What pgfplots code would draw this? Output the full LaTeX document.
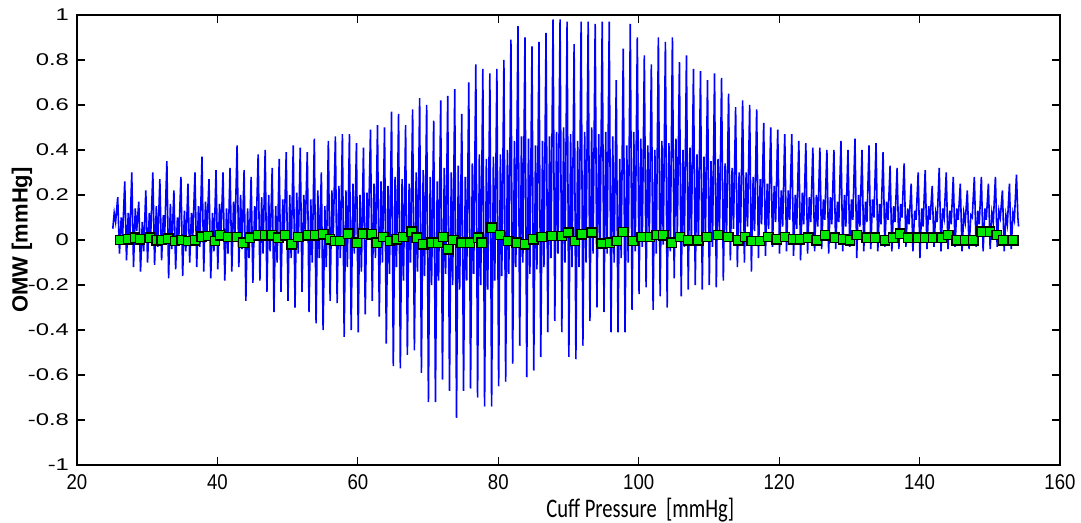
\documentclass[border=0pt]{standalone}
\usepackage{fontspec}
\setmainfont{Liberation Sans}
\newfontfamily\carl{Carlito}
\newfontfamily\ytickfont{Liberation Sans}[FakeStretch=1.4]
\usepackage{pgfplots}
\pgfplotsset{compat=1.18}
\definecolor{mkgreen}{RGB}{0,232,0}
\newcommand{\xt}[1]{\scalebox{1}[1.15]{#1}}
\begin{document}
\begin{tikzpicture}
\path[use as bounding box] (-38.5pt,-29pt) rectangle (502pt,232.5pt);
\begin{axis}[
  scale only axis, width=491.5pt, height=225pt,
  xmin=20, xmax=160, ymin=-1, ymax=1,
  xtick={20,40,60,80,100,120,140,160},
  xticklabels={\xt{20},\xt{40},\xt{60},\xt{80},\xt{100},\xt{120},\xt{140},\xt{160}},
  ytick={-1,-0.8,-0.6,-0.4,-0.2,0,0.2,0.4,0.6,0.8,1},
  yticklabels={-1,-0.8,-0.6,-0.4,-0.2,0,0.2,0.4,0.6,0.8,1},
  tick align=inside, major tick length=4pt,
  tick style={black, line width=0.6pt},
  axis line style={black, line width=0.8pt},
  xticklabel style={font=\fontsize{9.3}{10}\selectfont, yshift=-1.5pt},
  yticklabel style={font=\ytickfont\fontsize{8.5}{9}\selectfont, xshift=-0.5pt},
  xlabel={\scalebox{1}[1.3]{\carl Cuff Pressure\ \ [mmHg]}},
  xlabel style={font=\fontsize{10.3}{11}\selectfont, at={(axis description cs:0.573,-0.1)}, anchor=center},
  ylabel={\bfseries OMW [mmHg]},
  ylabel style={font=\fontsize{11}{12}\selectfont, at={(axis description cs:-0.056,0.5)}, anchor=center, rotate=0},
]
\addplot[blue, line width=0.8pt] coordinates {
(25.1,0.05)(25.3,0.12)(25.5,0.08)
(25.8,0.19)(26.05,-0.06)(26.3,0.10)(26.5,0.02)
(26.8,0.26)(27.05,-0.09)(27.3,0.12)(27.5,-0.02)
(27.8,0.30)(28.05,-0.12)(28.3,0.14)(28.5,0.04)
(28.8,0.17)(29.05,-0.14)(29.3,0.08)(29.5,-0.05)
(29.8,0.22)(30.05,-0.10)(30.3,0.12)(30.5,0.02)
(30.8,0.30)(31.05,-0.11)(31.3,0.15)(31.5,-0.03)
(31.8,0.27)(32.05,-0.09)(32.3,0.11)(32.5,0.03)
(32.8,0.35)(33.05,-0.17)(33.3,0.16)(33.5,-0.04)
(33.8,0.22)(34.05,-0.13)(34.3,0.10)(34.5,0.01)
(34.8,0.28)(35.05,-0.16)(35.3,0.13)(35.5,-0.05)
(35.8,0.25)(36.05,-0.10)(36.3,0.12)(36.5,0.02)
(36.8,0.30)(37.05,-0.12)(37.3,0.15)(37.5,-0.03)
(37.8,0.37)(38.05,-0.14)(38.3,0.17)(38.5,0.03)
(38.8,0.27)(39.05,-0.17)(39.3,0.12)(39.5,-0.05)
(39.8,0.31)(40.05,-0.13)(40.3,0.16)(40.5,0.02)
(40.8,0.30)(41.05,-0.18)(41.3,0.14)(41.5,-0.06)
(41.8,0.32)(42.05,-0.14)(42.3,0.17)(42.5,0.03)
(42.8,0.42)(43.05,-0.12)(43.3,0.20)(43.5,-0.04)
(43.8,0.31)(44.05,-0.27)(44.3,0.14)(44.5,-0.08)
(44.8,0.28)(45.05,-0.19)(45.3,0.15)(45.5,0.02)
(45.8,0.38)(46.05,-0.18)(46.3,0.19)(46.5,-0.06)
(46.8,0.40)(47.05,-0.23)(47.3,0.20)(47.5,-0.05)
(47.8,0.32)(48.05,-0.32)(48.3,0.15)(48.5,-0.10)
(48.8,0.36)(49.05,-0.23)(49.3,0.18)(49.5,0.02)
(49.8,0.39)(50.05,-0.27)(50.3,0.20)(50.5,-0.08)
(50.8,0.42)(51.05,-0.30)(51.3,0.21)(51.5,-0.06)
(51.8,0.41)(52.05,-0.23)(52.3,0.20)(52.5,0.03)
(52.8,0.39)(53.05,-0.32)(53.3,0.18)(53.5,-0.10)
(53.8,0.45)(54.05,-0.37)(54.3,0.22)(54.5,-0.08)
(54.8,0.30)(55.05,-0.40)(55.3,0.15)(55.5,-0.12)
(55.8,0.44)(56.05,-0.27)(56.3,0.22)(56.5,0.02)
(56.8,0.46)(57.05,-0.28)(57.3,0.24)(57.5,-0.08)
(57.8,0.47)(58.05,-0.43)(58.3,0.22)(58.5,-0.12)
(58.8,0.47)(59.05,-0.40)(59.3,0.25)(59.5,-0.06)
(59.8,0.43)(60.05,-0.41)(60.3,0.20)(60.5,-0.14)
(60.8,0.41)(61.05,-0.33)(61.3,0.21)(61.5,0.03)
(61.8,0.49)(62.05,-0.27)(62.3,0.25)(62.5,-0.08)
(62.8,0.51)(63.05,-0.34)(63.3,0.26)(63.5,-0.10)
(63.8,0.50)(64.05,-0.46)(64.3,0.24)(64.5,-0.15)
(64.8,0.57)(65.05,-0.56)(65.3,0.28)(65.5,-0.12)
(65.8,0.56)(66.05,-0.57)(66.3,0.27)(66.5,-0.18)
(66.8,0.51)(67.05,-0.51)(67.3,0.25)(67.5,-0.10)
(67.8,0.58)(68.05,-0.49)(68.3,0.30)(68.5,-0.14)
(68.8,0.63)(69.05,-0.59)(69.3,0.31)(69.5,-0.16)
(69.8,0.60)(70.05,-0.72)(70.3,0.28)(70.5,-0.20)
(70.8,0.53)(71.05,-0.72)(71.3,0.26)(71.5,-0.18)
(71.8,0.62)(72.05,-0.62)(72.3,0.32)(72.5,-0.15)
(72.8,0.64)(73.05,-0.67)(73.3,0.30)(73.5,-0.20)
(73.8,0.67)(74.05,-0.79)(74.3,0.33)(74.5,-0.22)
(74.8,0.56)(75.05,-0.67)(75.3,0.28)(75.5,-0.18)
(75.8,0.70)(76.05,-0.66)(76.3,0.34)(76.5,-0.15)
(76.8,0.78)(77.05,-0.70)(77.3,0.38)(77.5,-0.20)
(77.8,0.76)(78.05,-0.74)(78.3,0.36)(78.5,-0.22)
(78.8,0.74)(79.05,-0.74)(79.3,0.37)(79.5,-0.18)
(79.8,0.76)(80.05,-0.65)(80.3,0.38)(80.5,-0.16)
(80.8,0.80)(81.05,-0.63)(81.3,0.40)(81.5,-0.15)
(81.8,0.89)(82.05,-0.55)(82.3,0.44)(82.5,-0.12)
(82.8,0.95)(83.05,-0.47)(83.3,0.46)(83.5,-0.10)
(83.8,0.90)(84.05,-0.61)(84.3,0.45)(84.5,-0.15)
(84.8,0.86)(85.05,-0.58)(85.3,0.42)(85.5,-0.13)
(85.8,0.88)(86.05,-0.52)(86.3,0.44)(86.5,-0.12)
(86.8,0.92)(87.05,-0.41)(87.3,0.46)(87.5,-0.08)
(87.8,0.98)(88.05,-0.36)(88.3,0.48)(88.5,-0.06)
(88.8,0.98)(89.05,-0.41)(89.3,0.50)(89.5,-0.10)
(89.8,0.97)(90.05,-0.52)(90.3,0.47)(90.5,-0.12)
(90.8,0.87)(91.05,-0.53)(91.3,0.44)(91.5,-0.12)
(91.8,0.97)(92.05,-0.47)(92.3,0.48)(92.5,-0.10)
(92.8,0.97)(93.05,-0.36)(93.3,0.50)(93.5,-0.06)
(93.8,0.96)(94.05,-0.30)(94.3,0.47)(94.5,-0.04)
(94.8,0.97)(95.05,-0.32)(95.3,0.48)(95.5,-0.06)
(95.8,0.97)(96.05,-0.41)(96.3,0.46)(96.5,-0.10)
(96.8,0.71)(97.05,-0.41)(97.3,0.36)(97.5,-0.08)
(97.8,0.85)(98.05,-0.41)(98.3,0.42)(98.5,-0.10)
(98.8,0.96)(99.05,-0.31)(99.3,0.48)(99.5,-0.05)
(99.8,0.90)(100.05,-0.24)(100.3,0.45)(100.5,-0.03)
(100.8,0.82)(101.05,-0.21)(101.3,0.42)(101.5,0.00)
(101.8,0.78)(102.05,-0.31)(102.3,0.40)(102.5,-0.06)
(102.8,0.90)(103.05,-0.25)(103.3,0.44)(103.5,-0.02)
(103.8,0.88)(104.05,-0.30)(104.3,0.43)(104.5,-0.05)
(104.8,0.90)(105.05,-0.17)(105.3,0.45)(105.5,0.02)
(105.8,0.79)(106.05,-0.25)(106.3,0.40)(106.5,-0.03)
(106.8,0.82)(107.05,-0.22)(107.3,0.41)(107.5,0.00)
(107.8,0.76)(108.05,-0.20)(108.3,0.38)(108.5,-0.02)
(108.8,0.75)(109.05,-0.22)(109.3,0.37)(109.5,0.01)
(109.8,0.71)(110.05,-0.20)(110.3,0.35)(110.5,-0.03)
(110.8,0.74)(111.05,-0.21)(111.3,0.36)(111.5,0.02)
(111.8,0.72)(112.05,-0.18)(112.3,0.34)(112.5,0.00)
(112.8,0.65)(113.05,-0.09)(113.3,0.32)(113.5,0.05)
(113.8,0.59)(114.05,-0.12)(114.3,0.30)(114.5,0.03)
(114.8,0.62)(115.05,-0.10)(115.3,0.30)(115.5,0.06)
(115.8,0.60)(116.05,-0.14)(116.3,0.28)(116.5,0.04)
(116.8,0.58)(117.05,-0.08)(117.3,0.27)(117.5,0.07)
(117.8,0.52)(118.05,-0.07)(118.3,0.25)(118.5,0.05)
(118.8,0.50)(119.05,-0.03)(119.3,0.24)(119.5,0.08)
(119.8,0.49)(120.05,-0.06)(120.3,0.22)(120.5,0.06)
(120.8,0.47)(121.05,-0.05)(121.3,0.22)(121.5,0.09)
(121.8,0.47)(122.05,-0.07)(122.3,0.20)(122.5,0.05)
(122.8,0.44)(123.05,-0.09)(123.3,0.21)(123.5,0.07)
(123.8,0.43)(124.05,-0.06)(124.3,0.19)(124.5,0.08)
(124.8,0.41)(125.05,-0.05)(125.3,0.20)(125.5,0.06)
(125.8,0.41)(126.05,-0.04)(126.3,0.18)(126.5,0.09)
(126.8,0.40)(127.05,-0.06)(127.3,0.19)(127.5,0.07)
(127.8,0.40)(128.05,-0.04)(128.3,0.17)(128.5,0.08)
(128.8,0.44)(129.05,-0.05)(129.3,0.20)(129.5,0.06)
(129.8,0.40)(130.05,-0.03)(130.3,0.18)(130.5,0.09)
(130.8,0.45)(131.05,-0.08)(131.3,0.20)(131.5,0.06)
(131.8,0.40)(132.05,-0.05)(132.3,0.17)(132.5,0.08)
(132.8,0.42)(133.05,-0.04)(133.3,0.18)(133.5,0.10)
(133.8,0.43)(134.05,-0.05)(134.3,0.16)(134.5,0.07)
(134.8,0.39)(135.05,-0.03)(135.3,0.17)(135.5,0.09)
(135.8,0.33)(136.05,-0.05)(136.3,0.15)(136.5,0.08)
(136.8,0.32)(137.05,-0.04)(137.3,0.16)(137.5,0.10)
(137.8,0.34)(138.05,-0.03)(138.3,0.14)(138.5,0.07)
(138.8,0.25)(139.05,-0.05)(139.3,0.13)(139.5,0.09)
(139.8,0.30)(140.05,-0.08)(140.3,0.14)(140.5,0.06)
(140.8,0.31)(141.05,-0.04)(141.3,0.15)(141.5,0.09)
(141.8,0.24)(142.05,-0.03)(142.3,0.12)(142.5,0.08)
(142.8,0.32)(143.05,-0.05)(143.3,0.14)(143.5,0.10)
(143.8,0.30)(144.05,-0.04)(144.3,0.13)(144.5,0.07)
(144.8,0.28)(145.05,-0.03)(145.3,0.14)(145.5,0.09)
(145.8,0.25)(146.05,-0.05)(146.3,0.12)(146.5,0.08)
(146.8,0.22)(147.05,-0.04)(147.3,0.11)(147.5,0.10)
(147.8,0.28)(148.05,-0.03)(148.3,0.13)(148.5,0.07)
(148.8,0.28)(149.05,-0.05)(149.3,0.14)(149.5,0.09)
(149.8,0.25)(150.05,-0.04)(150.3,0.12)(150.5,0.08)
(150.8,0.28)(151.05,-0.03)(151.3,0.13)(151.5,0.10)
(151.8,0.22)(152.05,-0.05)(152.3,0.11)(152.5,0.07)
(152.8,0.25)(153.05,-0.04)(153.3,0.12)(153.5,0.09)
(153.8,0.29)(154.0,0.10)(154.1,0.06)
};
\addplot[only marks, mark=square*, mark size=2.3pt, mark options={fill=mkgreen, draw=black, line width=0.7pt}] coordinates {
(26.12,0.000)(27.31,0.003)(28.26,0.010)(28.97,0.003)(30.40,0.010)(31.35,-0.001)
(32.06,0.000)(33.01,0.006)(33.96,-0.004)(34.91,0.000)(35.86,-0.004)(36.81,-0.001)
(37.76,0.015)(38.71,0.018)(39.65,-0.004)(40.37,0.021)(41.55,0.013)(42.74,0.013)
(43.69,-0.012)(44.64,0.010)(45.83,0.021)(46.78,0.021)(47.73,0.021)(48.67,0.010)
(49.62,0.021)(50.57,-0.019)(51.52,0.013)(52.95,0.021)(53.90,0.021)(55.08,0.025)
(56.03,0.003)(56.74,-0.004)(57.46,-0.004)(58.64,0.028)(59.83,-0.012)(60.78,0.028)
(61.97,0.025)(62.68,-0.012)(63.63,0.013)(64.58,-0.004)(65.53,0.003)(66.48,0.013)
(67.67,0.037)(68.38,0.010)(69.33,-0.019)(70.51,-0.012)(71.46,-0.012)(72.18,0.013)
(72.89,-0.041)(73.60,0.000)(74.79,-0.012)(75.97,-0.012)(77.16,0.010)(77.63,-0.012)
(79.06,0.055)(80.25,0.022)(81.43,-0.004)(82.62,-0.012)(83.81,-0.019)(84.99,0.003)
(86.18,0.013)(87.60,0.018)(89.03,0.018)(89.98,0.033)(90.93,-0.004)(91.88,0.025)
(93.30,0.033)(94.73,-0.016)(95.91,-0.012)(96.86,-0.004)(97.81,0.036)(99.24,-0.004)
(100.42,0.013)(101.61,0.013)(102.56,0.022)(103.51,0.021)(104.70,-0.012)(105.88,0.013)
(107.07,-0.001)(108.49,-0.001)(109.68,0.013)(111.34,0.022)(112.77,0.013)(114.19,-0.001)
(115.14,0.013)(116.09,-0.004)(117.28,-0.004)(118.46,0.013)(119.65,0.003)(120.84,0.013)
(122.02,0.003)(122.97,0.003)(124.16,0.010)(125.35,-0.001)(126.53,0.021)(127.96,0.010)
(129.14,0.003)(130.09,-0.001)(131.04,0.022)(132.47,0.010)(133.65,0.010)(135.08,-0.001)
(136.27,0.010)(137.22,0.028)(138.40,0.010)(139.83,0.010)(140.78,0.010)(141.96,0.010)
(143.15,0.010)(144.10,0.022)(145.29,-0.001)(146.47,-0.001)(147.66,-0.001)(148.85,0.037)
(150.03,0.037)(150.98,0.022)(151.93,-0.001)(153.36,-0.001)
};
\end{axis}
\end{tikzpicture}
\end{document}
